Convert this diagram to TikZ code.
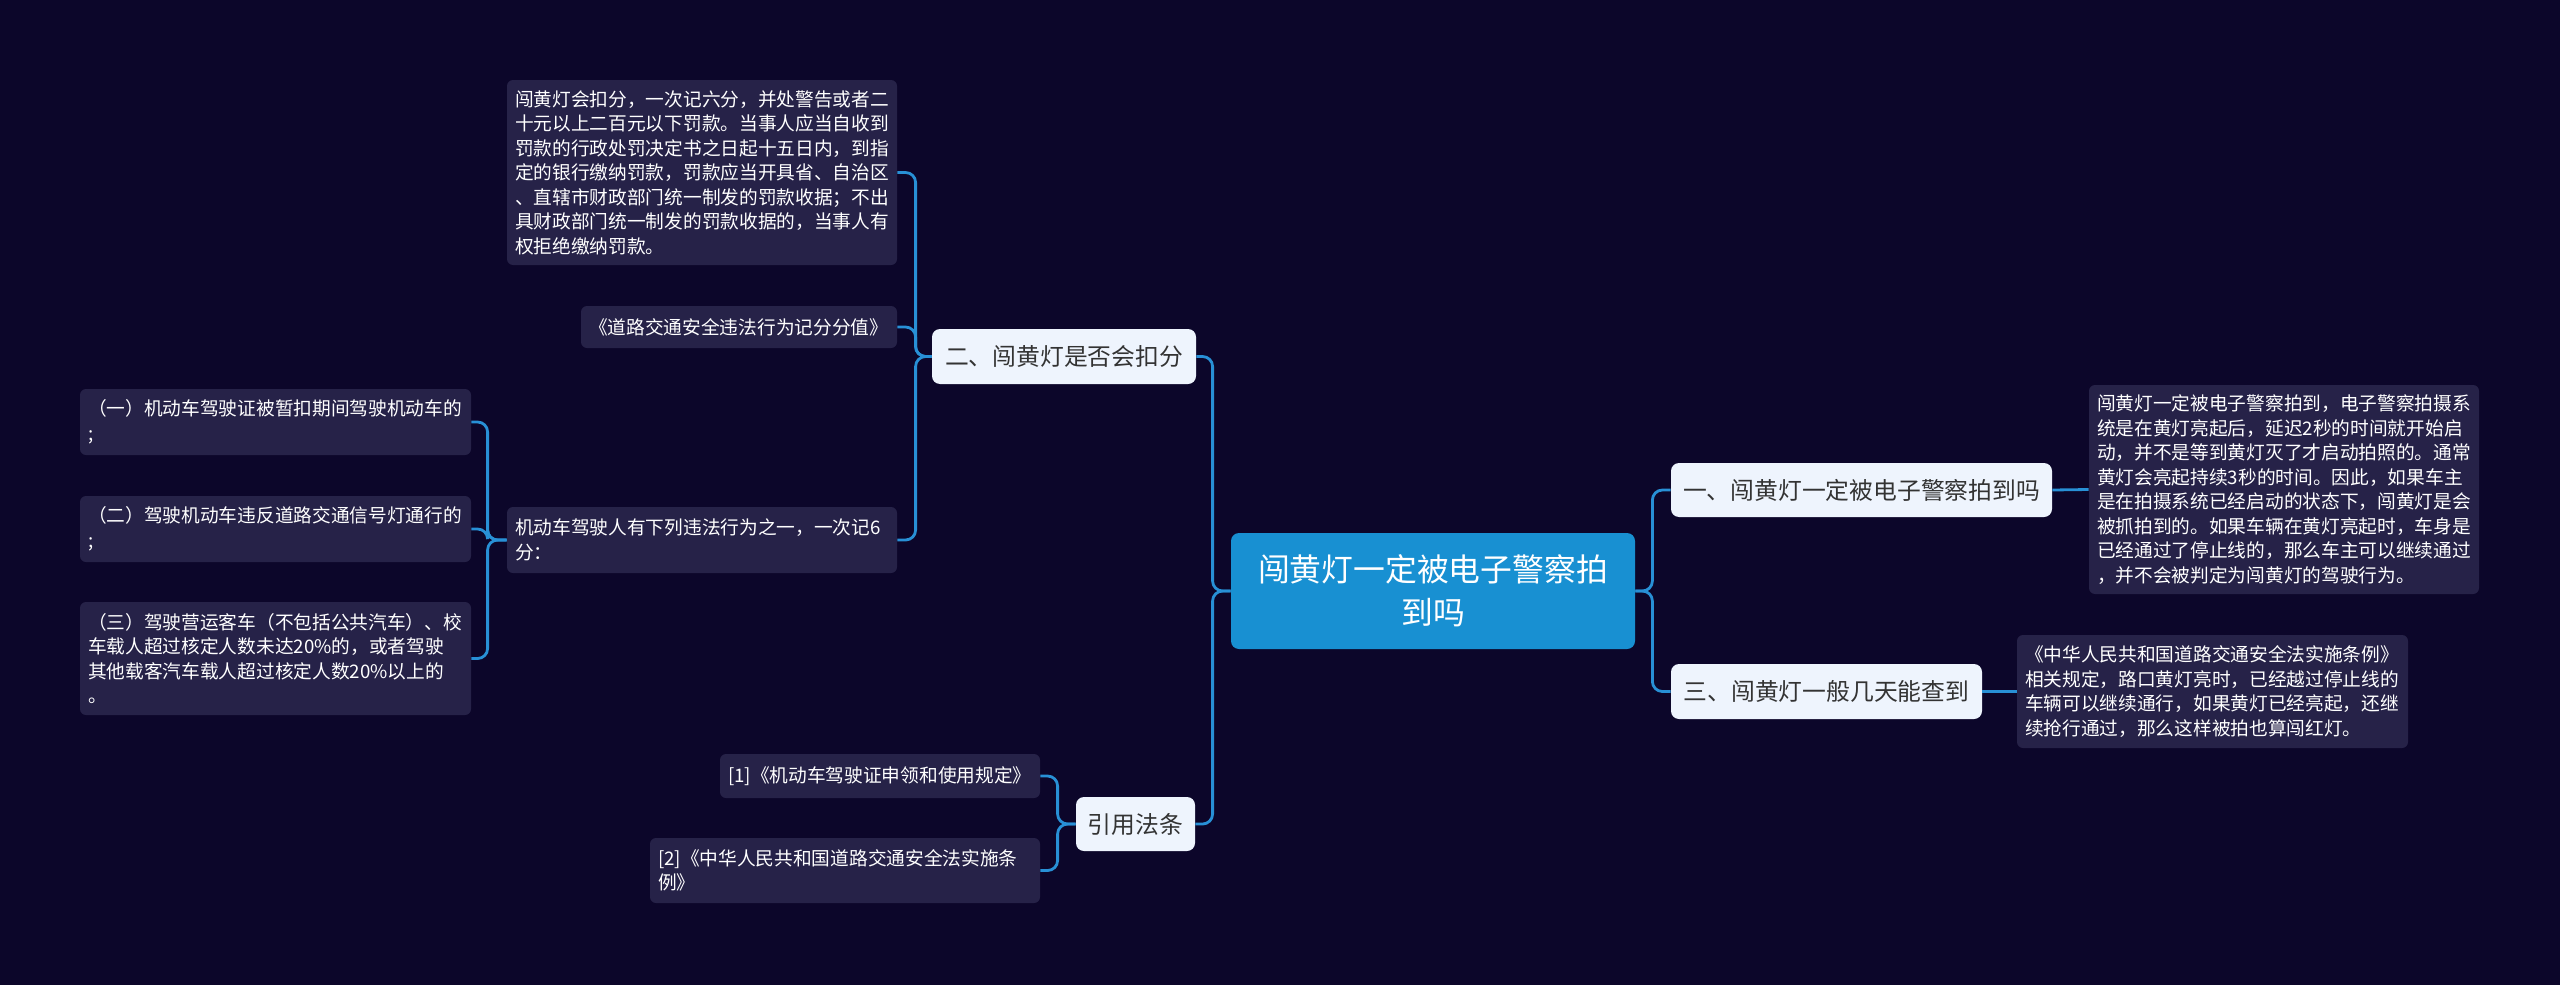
\documentclass[tikz,border=0pt]{standalone}
\usepackage{fontspec}
\setmainfont{Noto Sans CJK SC}
\definecolor{bgc}{RGB}{12,6,42}
\definecolor{leafbg}{RGB}{38,34,72}
\definecolor{connc}{RGB}{40,144,214}
\definecolor{lvbg}{RGB}{238,244,253}
\definecolor{lvtext}{RGB}{51,51,51}
\definecolor{rootbg}{RGB}{24,144,210}
\begin{document}
\begin{tikzpicture}[x=0.5pt,y=-0.5pt,
 leaf/.style={fill=leafbg, rounded corners=3pt, text=white, align=left, inner xsep=4pt, inner ysep=0pt, font=\fontsize{9.35pt}{12.25pt}\selectfont},
 lvl/.style={fill=lvbg, rounded corners=4pt, text=lvtext, align=center, inner sep=0pt, font=\fontsize{11.9pt}{14pt}\selectfont},
 root/.style={fill=rootbg, rounded corners=4pt, text=white, align=center, inner sep=0pt, font=\fontsize{15.9pt}{21.5pt}\selectfont},
 link/.style={draw=connc, line width=1.4pt, rounded corners=5pt}]
\fill[bgc] (0,0) rectangle (2560,985);
\useasboundingbox (0,0) rectangle (2560,985);
% root and level 1
\node[root, minimum width=202pt, minimum height=58pt] (root) at (1433,591) {闯黄灯一定被电子警察拍\\到吗};
\node[lvl, minimum width=132pt, minimum height=27.5pt] (L2) at (1064,356.5) {二、闯黄灯是否会扣分};
\node[lvl, minimum width=190.5pt, minimum height=27pt] (L1) at (1861.5,490) {一、闯黄灯一定被电子警察拍到吗};
\node[lvl, minimum width=155.5pt, minimum height=27.5pt] (L3) at (1826.5,691.5) {三、闯黄灯一般几天能查到};
\node[lvl, minimum width=59.5pt, minimum height=27pt] (L4) at (1135.5,824) {引用法条};
% leaves
\node[leaf, text width=187pt, minimum height=92.5pt] (topL) at (702,172.5) {闯黄灯会扣分，一次记六分，并处警告或者二\\十元以上二百元以下罚款。当事人应当自收到\\罚款的行政处罚决定书之日起十五日内，到指\\定的银行缴纳罚款，罚款应当开具省、自治区\\、直辖市财政部门统一制发的罚款收据；不出\\具财政部门统一制发的罚款收据的，当事人有\\权拒绝缴纳罚款。};
\node[leaf, text width=150pt, minimum height=21pt] (dao) at (739,327) {《道路交通安全违法行为记分分值》};
\node[leaf, text width=187pt, minimum height=33pt] (jdc) at (702,540) {机动车驾驶人有下列违法行为之一，一次记6\\分：};
\node[leaf, text width=187.5pt, minimum height=33pt] (yi) at (275.5,422) {（一）机动车驾驶证被暂扣期间驾驶机动车的\\;};
\node[leaf, text width=187.5pt, minimum height=33pt] (er) at (275.5,529) {（二）驾驶机动车违反道路交通信号灯通行的\\;};
\node[leaf, text width=187.5pt, minimum height=56.5pt] (san) at (275.5,658.5) {（三）驾驶营运客车（不包括公共汽车）、校\\车载人超过核定人数未达20\%的，或者驾驶\\其他载客汽车载人超过核定人数20\%以上的\\。};
\node[leaf, text width=187pt, minimum height=104.5pt] (rtop) at (2284,489.5) {闯黄灯一定被电子警察拍到，电子警察拍摄系\\统是在黄灯亮起后，延迟2秒的时间就开始启\\动，并不是等到黄灯灭了才启动拍照的。通常\\黄灯会亮起持续3秒的时间。因此，如果车主\\是在拍摄系统已经启动的状态下，闯黄灯是会\\被抓拍到的。如果车辆在黄灯亮起时，车身是\\已经通过了停止线的，那么车主可以继续通过\\，并不会被判定为闯黄灯的驾驶行为。};
\node[leaf, text width=187.5pt, minimum height=56.5pt] (rbot) at (2212.5,691.5) {《中华人民共和国道路交通安全法实施条例》\\相关规定，路口黄灯亮时，已经越过停止线的\\车辆可以继续通行，如果黄灯已经亮起，还继\\续抢行通过，那么这样被拍也算闯红灯。};
\node[leaf, text width=152pt, minimum height=22pt] (ref1) at (880,776) {[1]《机动车驾驶证申领和使用规定》};
\node[leaf, text width=187pt, minimum height=32.5pt] (ref2) at (845,870.5) {[2]《中华人民共和国道路交通安全法实施条\\例》};
% connectors
\draw[link] (root.west) -- ++(-18,0) |- (L2.east);
\draw[link] (root.west) -- ++(-18,0) |- (L4.east);
\draw[link] (root.east) -- ++(17,0) |- (L1.west);
\draw[link] (root.east) -- ++(17,0) |- (L3.west);
\draw[link] (L2.west) -- ++(-16,0) |- (topL.east);
\draw[link] (L2.west) -- ++(-16,0) |- (dao.east);
\draw[link] (L2.west) -- ++(-16,0) |- (jdc.east);
\draw[link] (jdc.west) -- ++(-19,0) |- (yi.east);
\draw[link] (jdc.west) -- ++(-19,0) |- (er.east);
\draw[link] (jdc.west) -- ++(-19,0) |- (san.east);
\draw[link] (L4.west) -- ++(-18,0) |- (ref1.east);
\draw[link] (L4.west) -- ++(-18,0) |- (ref2.east);
\draw[link] (L1.east) -- (rtop.west);
\draw[link] (L3.east) -- (rbot.west);
\end{tikzpicture}
\end{document}
